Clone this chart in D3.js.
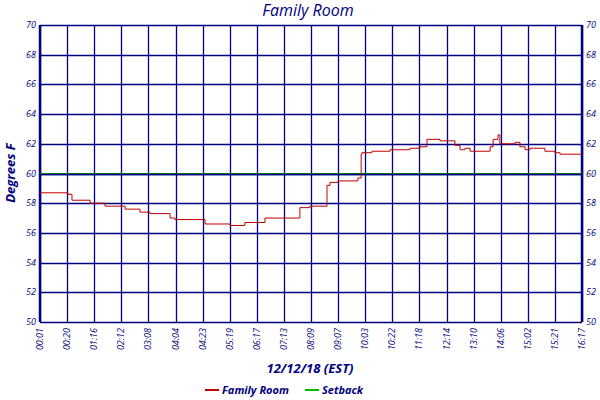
<!DOCTYPE html>
<html><head><meta charset="utf-8">
<script src="https://cdn.jsdelivr.net/npm/d3@7"></script>
<style>body{margin:0;background:#fff}text{font-family:"Open Sans",sans-serif;font-style:italic;fill:#000080}</style>
</head><body><svg id="c" width="600" height="400"></svg>
<script>
const timeLabels=["00:01","00:20","01:16","02:12","03:08","04:04","04:23","05:19","06:17","07:13","08:09","09:07","10:03","10:22","11:18","12:14","13:10","14:06","15:02","15:21","16:17"];
const yTicks=[50,52,54,56,58,60,62,64,66,68,70];
const roomPos=[0,1.03,1.18,1.85,2.40,3.14,3.69,4.06,4.80,4.98,6.09,7.01,7.56,8.30,9.59,9.96,10.59,10.70,11.00,11.73,11.85,11.88,12.25,12.92,13.65,14.02,14.28,14.76,15.31,15.50,15.68,15.87,16.61,16.72,16.90,16.97,17.53,17.71,17.90,18.08,18.63,19.00,19.19,20];
const roomVal=[58.7,58.6,58.2,58.0,57.8,57.6,57.4,57.3,57.0,56.9,56.6,56.5,56.7,57.0,57.7,57.8,59.2,59.4,59.5,59.7,61.3,61.4,61.5,61.6,61.7,61.8,62.3,62.2,61.9,61.6,61.7,61.5,61.8,62.3,62.6,62.0,62.1,61.8,61.6,61.7,61.5,61.4,61.3,61.3];
const setback=60;
const navy="#000080";
const svg=d3.select("#c");
const L=40,R=582,T=25,B=322;
const x=d3.scaleLinear().domain([0,20]).range([L,R]);
const y=d3.scaleLinear().domain([50,70]).range([B,T]);
const g=svg.append("g");
const px=v=>Math.round(v)+0.5;
g.selectAll(".v").data(d3.range(21)).join("line").attr("x1",d=>px(x(d))).attr("x2",d=>px(x(d))).attr("y1",T).attr("y2",B).attr("stroke",navy).attr("stroke-width",1.3);
g.selectAll(".h").data(yTicks).join("line").attr("x1",L).attr("x2",R).attr("y1",d=>px(y(d))).attr("y2",d=>px(y(d))).attr("stroke",navy).attr("stroke-width",1.3);
g.append("line").attr("x1",L).attr("x2",L).attr("y1",T).attr("y2",B).attr("stroke",navy).attr("stroke-width",2.5);
g.append("line").attr("x1",R).attr("x2",R).attr("y1",T).attr("y2",B).attr("stroke",navy).attr("stroke-width",2.5);
g.append("line").attr("x1",L).attr("x2",R).attr("y1",px(y(setback))-1).attr("y2",px(y(setback))-1).attr("stroke","#00a000").attr("stroke-width",1);
g.append("line").attr("x1",L).attr("x2",R).attr("y1",px(y(setback))).attr("y2",px(y(setback))).attr("stroke",navy).attr("stroke-width",1.3);
const pts=roomPos.map((p,i)=>[p,roomVal[i]]);
g.append("path").datum(pts).attr("d",d3.line().x(d=>x(d[0])).y(d=>y(d[1])).curve(d3.curveStepAfter)).attr("fill","none").attr("stroke","#c00000").attr("stroke-width",1);
svg.selectAll(".yl").data(yTicks).join("text").attr("x",L-4).attr("y",d=>y(d)+3).attr("text-anchor","end").attr("font-size",9).text(d=>d);
svg.selectAll(".yr").data(yTicks).join("text").attr("x",R+4).attr("y",d=>y(d)+3).attr("font-size",9).text(d=>d);
svg.selectAll(".xl").data(timeLabels).join("text").attr("transform",(d,i)=>`translate(${x(i)+3},${B+6}) rotate(-90)`).attr("text-anchor","end").attr("font-size",9).text(d=>d);
svg.append("text").attr("x",308).attr("y",16).attr("text-anchor","middle").attr("font-size",16).text("Family Room");
svg.append("text").attr("transform","translate(15,173) rotate(-90)").attr("text-anchor","middle").attr("font-size",13).attr("font-weight","bold").text("Degrees F");
svg.append("text").attr("x",310).attr("y",373).attr("text-anchor","middle").attr("font-size",13).attr("font-weight","bold").text("12/12/18 (EST)");
svg.append("line").attr("x1",205).attr("x2",219).attr("y1",390).attr("y2",390).attr("stroke","#c00000").attr("stroke-width",2);
svg.append("text").attr("x",222).attr("y",394).attr("font-size",11).attr("font-weight","bold").text("Family Room");
svg.append("line").attr("x1",305).attr("x2",319).attr("y1",390).attr("y2",390).attr("stroke","#00c000").attr("stroke-width",2);
svg.append("text").attr("x",322).attr("y",394).attr("font-size",11).attr("font-weight","bold").text("Setback");
</script></body></html>
